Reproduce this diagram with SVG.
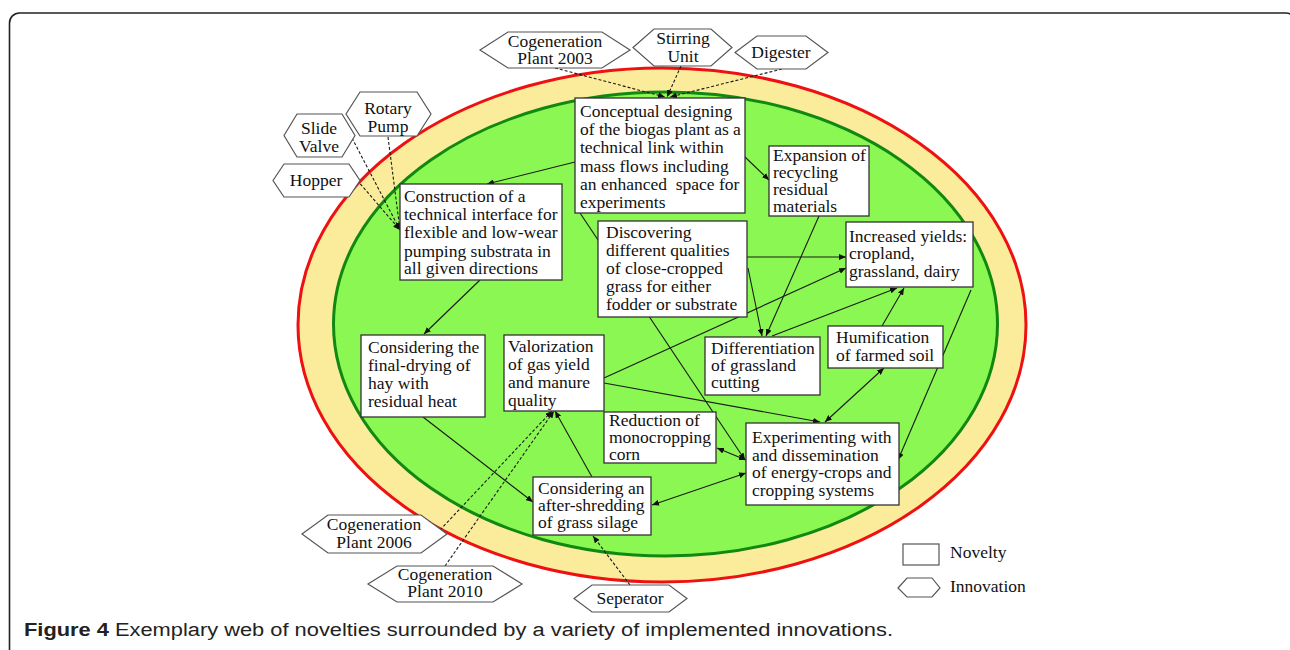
<svg xmlns="http://www.w3.org/2000/svg" width="1290" height="650" viewBox="0 0 1290 650">
<style>
.t{font-family:'Liberation Serif','Times New Roman',Tinos,'DejaVu Serif',serif;font-size:17.5px;fill:#111}
.tc{text-anchor:middle}
.box{fill:#fff;stroke:#333;stroke-width:1.3}
.hex{fill:#fff;stroke:#555;stroke-width:1.2}
.c{stroke:#1a1a1a;stroke-width:1.1;fill:none;marker-end:url(#ah)}
.d{marker-start:url(#ah)}
.ds{stroke:#1a1a1a;stroke-width:1.1;fill:none;stroke-dasharray:3 2;marker-end:url(#ah)}
</style>
<defs>
<marker id="ah" markerUnits="userSpaceOnUse" markerWidth="8" markerHeight="6" refX="7" refY="3" orient="auto-start-reverse">
<path d="M0,0 L7,3 L0,6 z" fill="#111"/>
</marker>
</defs>
<rect x="0" y="0" width="1290" height="650" fill="#fff"/>
<path d="M9.5 650 V23 A10 10 0 0 1 19.5 13 H1286 A10 10 0 0 1 1296 23" fill="none" stroke="#222" stroke-width="1.6"/>
<g id="rings">
<ellipse cx="662" cy="325" rx="364" ry="257" fill="#FBEC9C" stroke="#EE1111" stroke-width="3"/>
<ellipse cx="665.5" cy="324" rx="332" ry="232" fill="#8BF752" stroke="#118811" stroke-width="3"/>
</g>
<g id="connectors">
<line class="c" x1="575" y1="162" x2="487" y2="184"/>
<line class="c" x1="745" y1="157" x2="769" y2="180"/>
<line class="c" x1="580" y1="213" x2="745" y2="460"/>
<line class="c" x1="747" y1="257" x2="846" y2="257"/>
<line class="c" x1="748" y1="268" x2="762" y2="336"/>
<line class="c" x1="819" y1="216" x2="766" y2="336"/>
<line class="c" x1="772" y1="336" x2="897" y2="288"/>
<line class="c" x1="604" y1="378" x2="846" y2="268"/>
<line class="c" x1="604" y1="383" x2="820" y2="422"/>
<line class="c d" x1="825" y1="422" x2="884" y2="368"/>
<line class="c" x1="882" y1="326" x2="904" y2="288"/>
<line class="c" x1="971" y1="290" x2="898" y2="460"/>
<line class="c d" x1="717" y1="448" x2="746" y2="460"/>
<line class="c d" x1="746" y1="473" x2="652" y2="505"/>
<line class="c" x1="423" y1="417" x2="533" y2="502"/>
<line class="c" x1="592" y1="477" x2="555" y2="411"/>
<line class="c" x1="480" y1="280" x2="424" y2="334"/>
<line class="ds" x1="555" y1="68" x2="665" y2="97"/>
<line class="ds" x1="681" y1="66" x2="667" y2="97"/>
<line class="ds" x1="782" y1="69" x2="670" y2="97"/>
<line class="ds" x1="388" y1="137" x2="400" y2="230"/>
<line class="ds" x1="352" y1="138" x2="400" y2="230"/>
<line class="ds" x1="357" y1="180" x2="400" y2="230"/>
<line class="ds" x1="440" y1="530" x2="552" y2="411"/>
<line class="ds" x1="445" y1="566" x2="554" y2="411"/>
<line class="ds" x1="630" y1="585" x2="593" y2="536"/>
</g>
<g id="n-conceptual">
<rect class="box" x="575" y="98" width="170" height="115"/>
<text class="t" font-family="Liberation Serif, serif"><tspan x="580" y="117">Conceptual designing</tspan><tspan x="580" y="135">of the biogas plant as a</tspan><tspan x="580" y="153">technical link within</tspan><tspan x="580" y="172">mass flows including</tspan><tspan x="580" y="190">an enhanced&#160; space for</tspan><tspan x="580" y="208">experiments</tspan></text>
</g>
<g id="n-expansion">
<rect class="box" x="769" y="146" width="100" height="70"/>
<text class="t" font-family="Liberation Serif, serif"><tspan x="773" y="161">Expansion of</tspan><tspan x="773" y="178">recycling</tspan><tspan x="773" y="195">residual</tspan><tspan x="773" y="212">materials</tspan></text>
</g>
<g id="n-construction">
<rect class="box" x="400" y="184" width="162" height="96"/>
<text class="t" font-family="Liberation Serif, serif"><tspan x="404" y="202">Construction of a</tspan><tspan x="404" y="220">technical interface for</tspan><tspan x="404" y="238">flexible and low-wear</tspan><tspan x="404" y="257">pumping substrata in</tspan><tspan x="404" y="274">all given directions</tspan></text>
</g>
<g id="n-discovering">
<rect class="box" x="598" y="221" width="149" height="96"/>
<text class="t" font-family="Liberation Serif, serif"><tspan x="606" y="238">Discovering</tspan><tspan x="606" y="256">different qualities</tspan><tspan x="606" y="274">of close-cropped</tspan><tspan x="606" y="292">grass for either</tspan><tspan x="606" y="310">fodder or substrate</tspan></text>
</g>
<g id="n-increased">
<rect class="box" x="846" y="222" width="127" height="65"/>
<text class="t" font-family="Liberation Serif, serif"><tspan x="849" y="242">Increased yields:</tspan><tspan x="849" y="259">cropland,</tspan><tspan x="849" y="277">grassland, dairy</tspan></text>
</g>
<g id="n-considering-drying">
<rect class="box" x="361" y="335" width="124" height="82"/>
<text class="t" font-family="Liberation Serif, serif"><tspan x="368" y="353">Considering the</tspan><tspan x="368" y="371">final-drying of</tspan><tspan x="368" y="389">hay with</tspan><tspan x="368" y="407">residual heat</tspan></text>
</g>
<g id="n-valorization">
<rect class="box" x="504" y="335" width="100" height="76"/>
<text class="t" font-family="Liberation Serif, serif"><tspan x="508" y="352">Valorization</tspan><tspan x="508" y="370">of gas yield</tspan><tspan x="508" y="388">and manure</tspan><tspan x="508" y="406">quality</tspan></text>
</g>
<g id="n-differentiation">
<rect class="box" x="705" y="337" width="115" height="58"/>
<text class="t" font-family="Liberation Serif, serif"><tspan x="711" y="354">Differentiation</tspan><tspan x="711" y="371">of grassland</tspan><tspan x="711" y="388">cutting</tspan></text>
</g>
<g id="n-humification">
<rect class="box" x="828" y="326" width="115" height="42"/>
<text class="t" font-family="Liberation Serif, serif"><tspan x="836" y="343">Humification</tspan><tspan x="836" y="361">of farmed soil</tspan></text>
</g>
<g id="n-reduction">
<rect class="box" x="604" y="412" width="112" height="51"/>
<text class="t" font-family="Liberation Serif, serif"><tspan x="609" y="426">Reduction of</tspan><tspan x="609" y="443">monocropping</tspan><tspan x="609" y="460">corn</tspan></text>
</g>
<g id="n-experimenting">
<rect class="box" x="746" y="423" width="153" height="82"/>
<text class="t" font-family="Liberation Serif, serif"><tspan x="752" y="443">Experimenting with</tspan><tspan x="752" y="461">and dissemination</tspan><tspan x="752" y="478">of energy-crops and</tspan><tspan x="752" y="496">cropping systems</tspan></text>
</g>
<g id="n-after-shredding">
<rect class="box" x="533" y="477" width="118" height="58"/>
<text class="t" font-family="Liberation Serif, serif"><tspan x="538" y="494">Considering an</tspan><tspan x="538" y="511">after-shredding</tspan><tspan x="538" y="528">of grass silage</tspan></text>
</g>
<g id="i-cogen2003">
<polygon class="hex" points="480,50 508,32 602,32 630,50 602,68 508,68"/>
<text class="t tc" font-family="Liberation Serif, serif"><tspan x="555" y="47">Cogeneration</tspan><tspan x="555" y="64">Plant 2003</tspan></text>
</g>
<g id="i-stirring">
<polygon class="hex" points="633,47.5 654,29 711,29 732,47.5 711,66 654,66"/>
<text class="t tc" font-family="Liberation Serif, serif"><tspan x="683" y="44">Stirring</tspan><tspan x="683" y="62">Unit</tspan></text>
</g>
<g id="i-digester">
<polygon class="hex" points="735,52.5 757,36 806,36 828,52.5 806,69 757,69"/>
<text class="t tc" font-family="Liberation Serif, serif"><tspan x="781" y="58">Digester</tspan></text>
</g>
<g id="i-rotary">
<polygon class="hex" points="346,114 360,92 417,92 431,114 417,136 360,136"/>
<text class="t tc" font-family="Liberation Serif, serif"><tspan x="388" y="114">Rotary</tspan><tspan x="388" y="132">Pump</tspan></text>
</g>
<g id="i-slide">
<polygon class="hex" points="284,135.5 297,114 342,114 355,135.5 342,157 297,157"/>
<text class="t tc" font-family="Liberation Serif, serif"><tspan x="319" y="134">Slide</tspan><tspan x="319" y="152">Valve</tspan></text>
</g>
<g id="i-hopper">
<polygon class="hex" points="273,180.5 284,164 349,164 360,180.5 349,197 284,197"/>
<text class="t tc" font-family="Liberation Serif, serif"><tspan x="316" y="186">Hopper</tspan></text>
</g>
<g id="i-cogen2006">
<polygon class="hex" points="302,534 328,515 421,515 447,534 421,553 328,553"/>
<text class="t tc" font-family="Liberation Serif, serif"><tspan x="374" y="530">Cogeneration</tspan><tspan x="374" y="548">Plant 2006</tspan></text>
</g>
<g id="i-cogen2010">
<polygon class="hex" points="368,584 397,566 493,566 522,584 493,602 397,602"/>
<text class="t tc" font-family="Liberation Serif, serif"><tspan x="445" y="580">Cogeneration</tspan><tspan x="445" y="597">Plant 2010</tspan></text>
</g>
<g id="i-seperator">
<polygon class="hex" points="574,598.5 592,585 669,585 687,598.5 669,612 592,612"/>
<text class="t tc" font-family="Liberation Serif, serif"><tspan x="630" y="604">Seperator</tspan></text>
</g>
<g id="legend">
<rect class="hex" x="903" y="544" width="36" height="21"/>
<text class="t" font-family="Liberation Serif, serif" x="950" y="558" font-size="16">Novelty</text>
<polygon class="hex" points="898,588 907,578 932,578 940,588 932,597 907,597"/>
<text class="t" font-family="Liberation Serif, serif" x="950" y="592" font-size="16">Innovation</text>
</g>
<text x="24" y="636" font-family="Liberation Sans, Arial, sans-serif" font-size="18" fill="#222" textLength="869" lengthAdjust="spacingAndGlyphs"><tspan font-weight="bold">Figure 4</tspan> Exemplary web of novelties surrounded by a variety of implemented innovations.</text>
</svg>
